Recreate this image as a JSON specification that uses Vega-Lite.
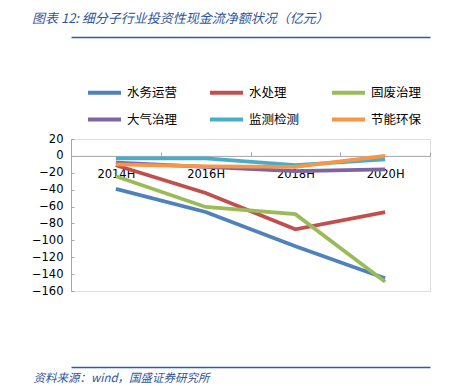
{
  "$schema": "https://vega.github.io/schema/vega-lite/v6.json",
  "width": 359,
  "height": 152,
  "autosize": {"type": "none"},
  "padding": {"left": 71, "top": 139, "right": 21, "bottom": 95},
  "background": "white",
  "title": {
    "text": "图表 12: 细分子行业投资性现金流净额状况（亿元）",
    "anchor": "start",
    "frame": "group",
    "dx": -39,
    "offset": 11,
    "fontSize": 13,
    "fontStyle": "italic",
    "fontWeight": "normal",
    "color": "#2F5597",
    "font": "Noto Sans CJK SC"
  },
  "data": {
    "values": [
      {"period": "2014H", "series": "水务运营", "value": -39},
      {"period": "2016H", "series": "水务运营", "value": -66.5},
      {"period": "2018H", "series": "水务运营", "value": -107},
      {"period": "2020H", "series": "水务运营", "value": -145},
      {"period": "2014H", "series": "水处理", "value": -11},
      {"period": "2016H", "series": "水处理", "value": -44},
      {"period": "2018H", "series": "水处理", "value": -87},
      {"period": "2020H", "series": "水处理", "value": -66.5},
      {"period": "2014H", "series": "固废治理", "value": -24},
      {"period": "2016H", "series": "固废治理", "value": -60.5},
      {"period": "2018H", "series": "固废治理", "value": -69},
      {"period": "2020H", "series": "固废治理", "value": -149},
      {"period": "2014H", "series": "大气治理", "value": -8},
      {"period": "2016H", "series": "大气治理", "value": -13},
      {"period": "2018H", "series": "大气治理", "value": -18},
      {"period": "2020H", "series": "大气治理", "value": -16},
      {"period": "2014H", "series": "监测检测", "value": -3},
      {"period": "2016H", "series": "监测检测", "value": -3},
      {"period": "2018H", "series": "监测检测", "value": -11},
      {"period": "2020H", "series": "监测检测", "value": -4},
      {"period": "2014H", "series": "节能环保", "value": -10},
      {"period": "2016H", "series": "节能环保", "value": -12.5},
      {"period": "2018H", "series": "节能环保", "value": -13},
      {"period": "2020H", "series": "节能环保", "value": 0}
    ]
  },
  "layer": [
    {
      "mark": {"type": "point", "opacity": 0},
      "encoding": {
        "x": {
          "field": "period", "type": "nominal",
          "scale": {"type": "band", "paddingInner": 0, "paddingOuter": 0},
          "axis": {
            "orient": "top", "offset": 102, "labels": false, "ticks": false,
            "domainColor": "#2E5AA8", "domainWidth": 1.5, "title": null
          }
        }
      }
    },
    {
      "mark": {"type": "point", "opacity": 0},
      "encoding": {
        "x": {
          "field": "period", "type": "nominal",
          "axis": {
            "orient": "bottom", "offset": 76, "labels": false, "ticks": false,
            "domainColor": "#2E5AA8", "domainWidth": 1.5,
            "title": "资料来源：wind，国盛证券研究所",
            "titleAnchor": "start", "titleX": -38, "titleY": 11,
            "titleBaseline": "middle", "titleAlign": "left",
            "titleFontStyle": "italic", "titleFontWeight": "normal",
            "titleFontSize": 11.5, "titleColor": "#2F5597",
            "titleFont": "Noto Sans CJK SC"
          }
        }
      }
    },
    {
      "mark": {"type": "line", "strokeWidth": 3.75},
      "encoding": {
        "x": {
          "field": "period", "type": "nominal",
          "axis": {
            "orient": "bottom", "offset": -135.1, "title": null,
            "tickBand": "extent", "tickSize": -4, "labelPadding": 17,
            "labelAngle": 0, "domainColor": "#A6A6A6", "tickColor": "#A6A6A6",
            "labelColor": "#000000", "labelFontSize": 11.5, "labelFont": "DejaVu Sans"
          }
        },
        "y": {
          "field": "value", "type": "quantitative",
          "scale": {"domain": [-160, 20], "nice": false, "zero": false},
          "axis": {
            "title": null, "grid": false,
            "values": [20, 0, -20, -40, -60, -80, -100, -120, -140, -160],
            "domainColor": "#A6A6A6", "tickColor": "#A6A6A6", "tickSize": -3,
            "labelPadding": 11, "labelColor": "#000000",
            "labelFontSize": 11.5, "labelFont": "DejaVu Sans"
          }
        },
        "color": {
          "field": "series", "type": "nominal",
          "scale": {
            "domain": ["水务运营", "水处理", "固废治理", "大气治理", "监测检测", "节能环保"],
            "range": ["#4F81BD", "#C0504D", "#9BBB59", "#8064A2", "#4BACC6", "#F79646"]
          },
          "legend": {
            "orient": "none", "legendX": 15, "legendY": -65,
            "direction": "horizontal", "columns": 3, "title": null,
            "symbolType": "stroke", "symbolSize": 1089, "symbolStrokeWidth": 4,
            "labelFontSize": 12.5, "labelFont": "Noto Sans CJK SC", "labelColor": "#000000",
            "columnPadding": 24, "rowPadding": -12, "labelOffset": 4
          }
        }
      }
    }
  ],
  "resolve": {"axis": {"x": "independent"}}
}
